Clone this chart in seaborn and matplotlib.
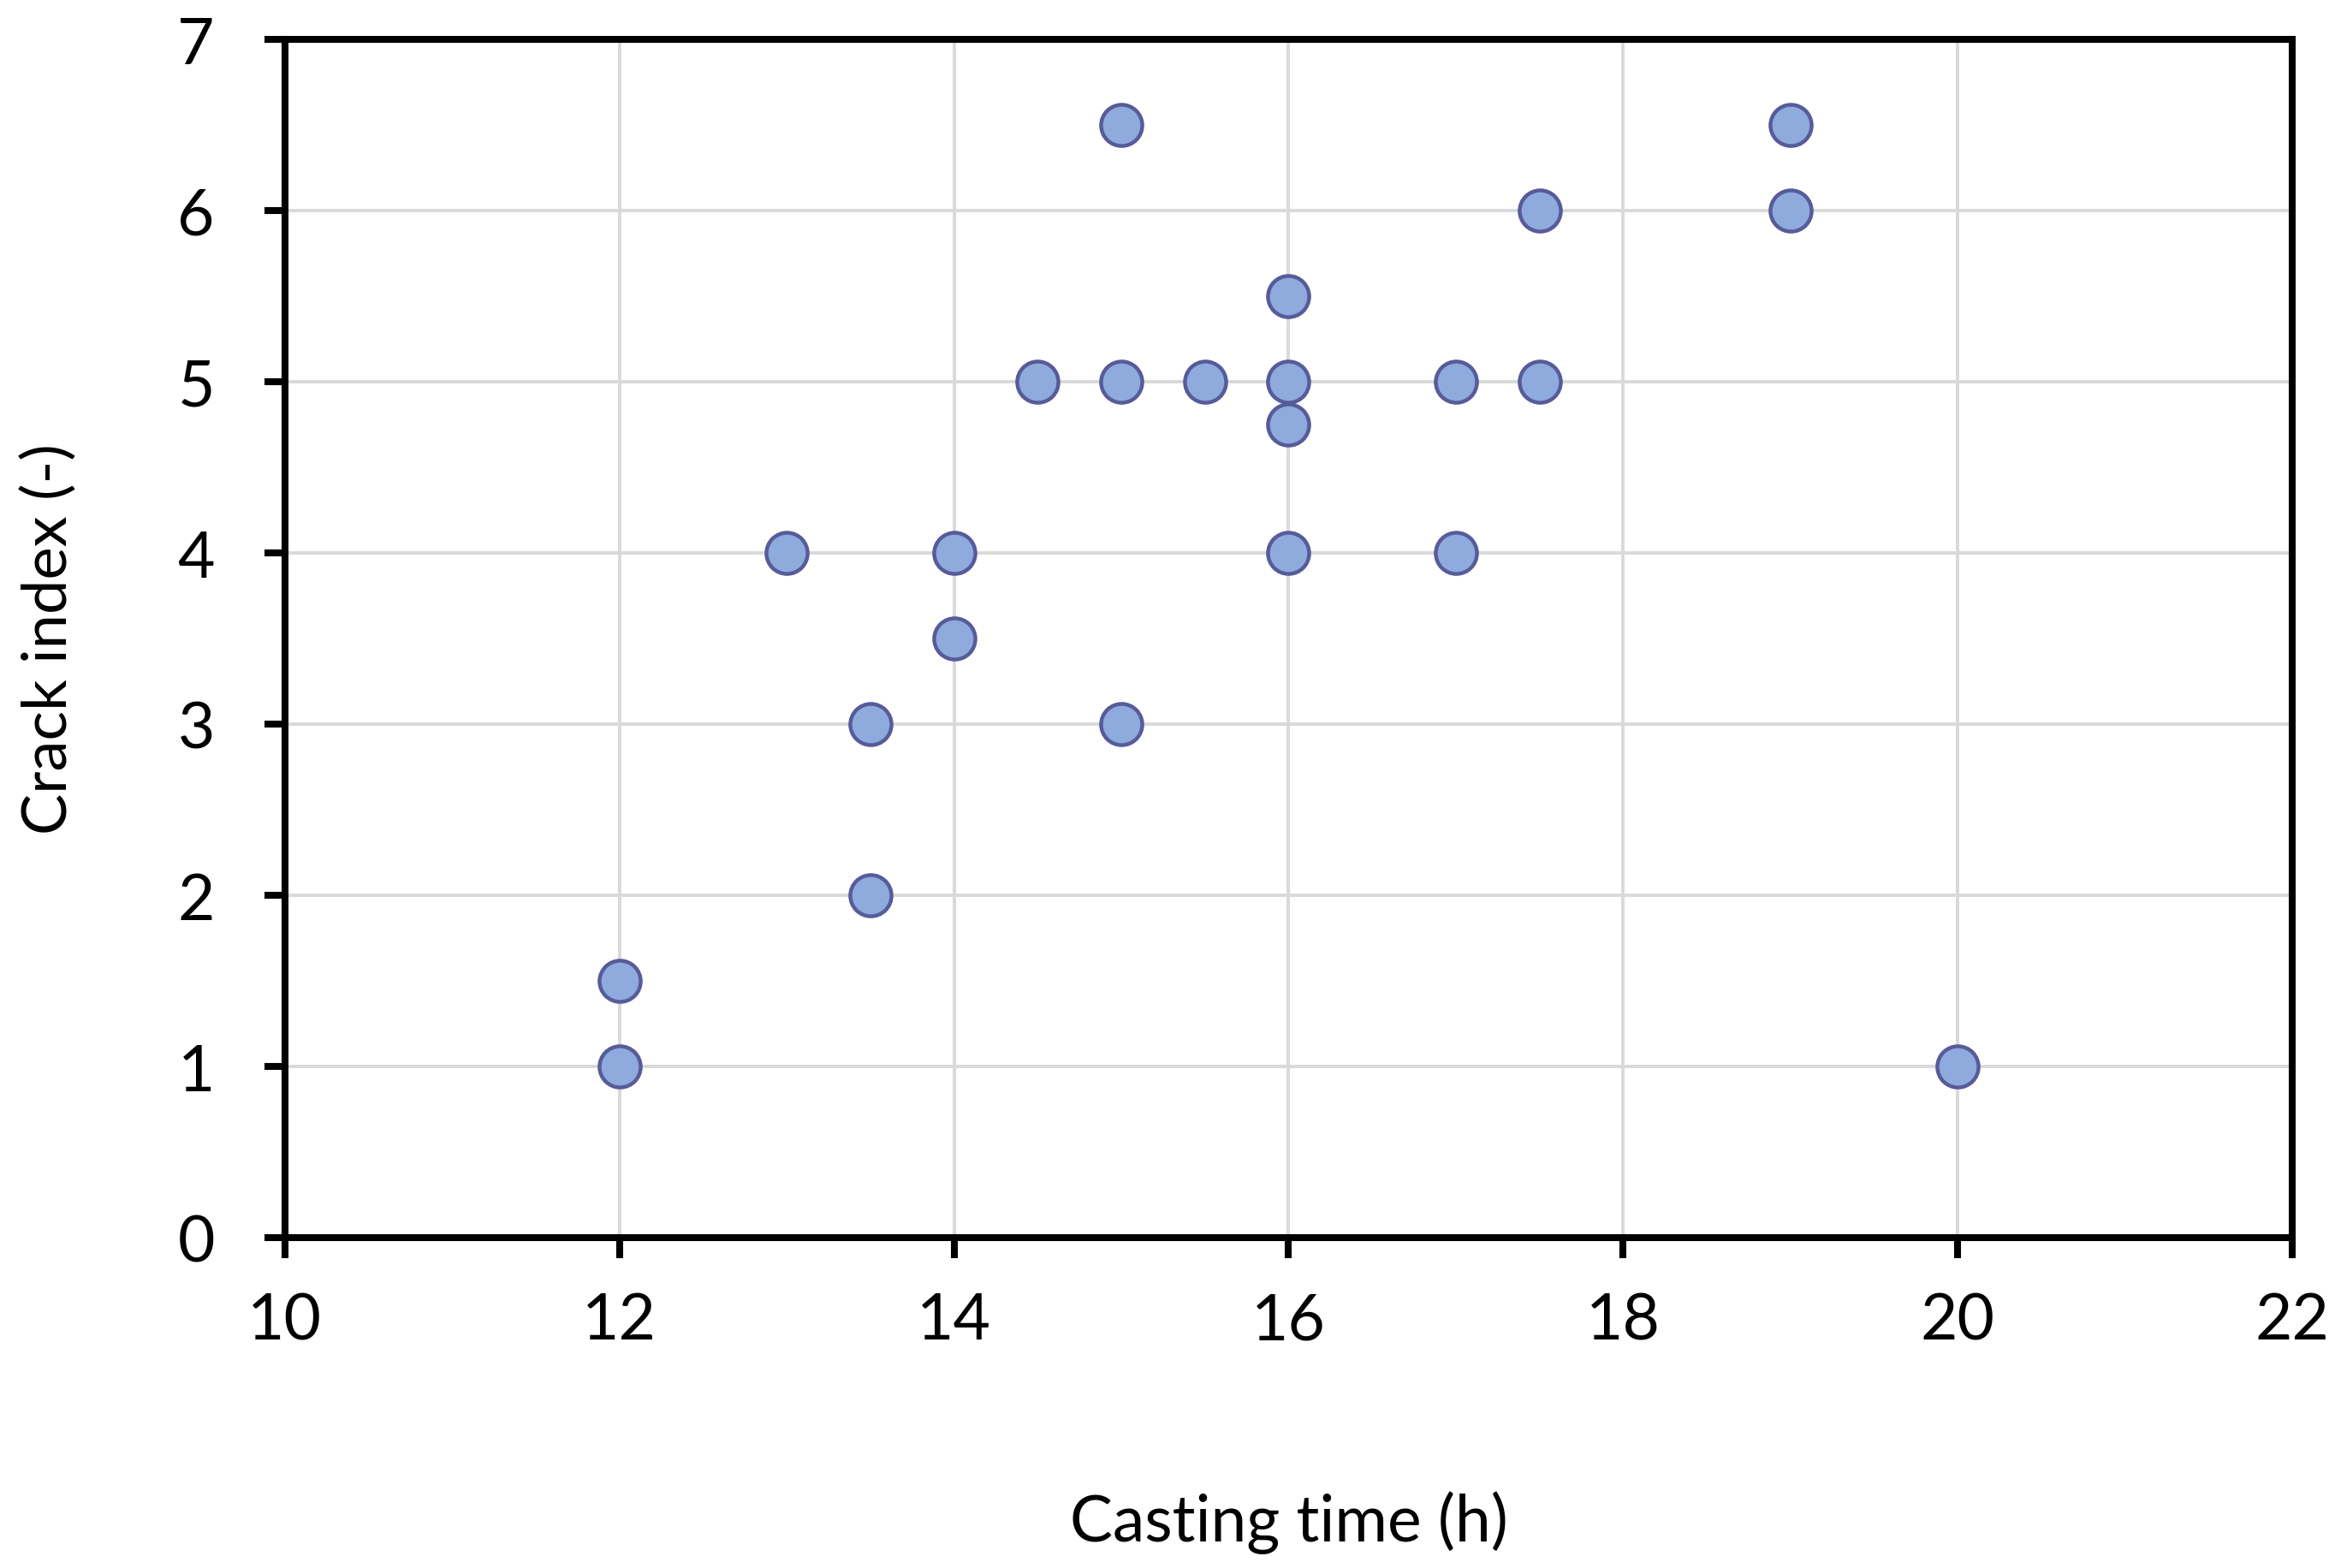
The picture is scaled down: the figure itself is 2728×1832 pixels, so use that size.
import numpy as np
import pandas as pd
import matplotlib
matplotlib.use("Agg")
import matplotlib.pyplot as plt
import seaborn as sns

# values
casting_time = [12, 12, 13, 13.5, 13.5, 14, 14, 14.5, 15, 15, 15, 15.5,
                16, 16, 16, 16, 17, 17, 17.5, 17.5, 19, 19, 20]
crack_index = [1.5, 1, 4, 3, 2, 4, 3.5, 5, 6.5, 5, 3, 5,
               5.5, 5, 4.75, 4, 5, 4, 6, 5, 6.5, 6, 1]
x_ticks = [10, 12, 14, 16, 18, 20, 22]
y_ticks = [0, 1, 2, 3, 4, 5, 6, 7]

df = pd.DataFrame({"Casting time (h)": casting_time, "Crack index (-)": crack_index})

sns.set_theme(style="whitegrid")
plt.rcParams['font.family'] = ['Lato', 'DejaVu Sans']

fig = plt.figure(figsize=(13.64, 9.165), dpi=200)
ax = fig.add_axes([0.122, 0.2106, 0.8597, 0.7638])

sns.scatterplot(data=df, x="Casting time (h)", y="Crack index (-)", ax=ax,
                s=300, color="#8faadc", edgecolor="#575b99", linewidth=1.6,
                zorder=3, clip_on=False)

ax.set_xlim(10, 22)
ax.set_ylim(0, 7)
ax.set_xticks(x_ticks)
ax.set_yticks(y_ticks)

ax.grid(True, color="#d9d9d9", linewidth=1.4)
for sp in ax.spines.values():
    sp.set_color("black")
    sp.set_linewidth(2.9)
    sp.set_visible(True)

ax.tick_params(axis="both", which="major", direction="out", length=8.5, width=2.9,
               color="black", labelsize=27, labelcolor="black",
               bottom=True, left=True)
ax.tick_params(axis="y", pad=21)
ax.tick_params(axis="x", pad=14)

ax.set_xlabel("Casting time (h)", fontsize=27, color="black", labelpad=59)
ax.set_ylabel("Crack index (-)", fontsize=26, color="black", labelpad=42)

fig.savefig("out.png", dpi=200, facecolor="white")
